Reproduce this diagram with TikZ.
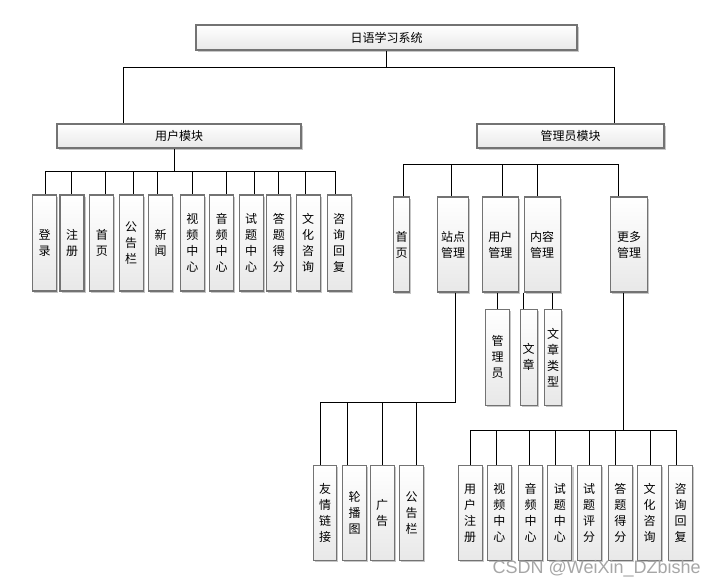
\documentclass[tikz,border=0pt]{standalone}
\usepackage{fontspec}
\newfontfamily\cjk{Noto Sans CJK SC}
\newfontfamily\wmfont{Liberation Sans}
\usetikzlibrary{shadows}
\tikzset{
  box/.style={draw=black!55, line width=1.1pt, top color=white, bottom color=black!9,
    inner sep=0pt, align=center, font=\cjk\fontsize{12}{16}\selectfont,
    drop shadow={shadow xshift=1.6pt, shadow yshift=-1.6pt, fill=black!22, opacity=1}},
  conn/.style={draw=black, line width=0.8pt},
}
\newcommand{\bx}[7]{\node[box, minimum width=#4pt, minimum height=#5pt] (#1) at (#2,#3) {#6};}
\begin{document}
\begin{tikzpicture}[x=1pt,y=-1pt]
\useasboundingbox (0,0) rectangle (718,588);
% top
\node[box, minimum width=381pt, minimum height=25pt] (top) at (386.5,37.5) {日语学习系统};
\node[box, minimum width=244pt, minimum height=24pt] (umod) at (179,136) {用户模块};
\node[box, minimum width=187pt, minimum height=24pt] (amod) at (570.5,136) {管理员模块};
% user children
\foreach \n/\cx/\t in {u1/44.7/登\\录, u2/72/注\\册, u3/101.8/首\\页, u4/131.2/公\\告\\栏,
  u5/160.5/新\\闻, u6/192.3/视\\频\\中\\心, u7/221.5/音\\频\\中\\心, u8/251.2/试\\题\\中\\心,
  u9/278.8/答\\题\\得\\分, u10/308.2/文\\化\\咨\\询, u11/339.2/咨\\询\\回\\复}
  \node[box, minimum width=24pt, minimum height=96pt] (\n) at (\cx,243) {\t};
% admin children
\node[box, minimum width=16.4pt, minimum height=95pt] (a1) at (401.5,244.5) {首\\页};
\node[box, minimum width=30.6pt, minimum height=95pt] (a2) at (453,244.5) {站点\\管理};
\node[box, minimum width=36pt, minimum height=95pt] (a3) at (500.3,244.5) {用户\\管理};
\node[box, minimum width=36.3pt, minimum height=95pt] (a4) at (542.2,244.5) {内容\\管理};
\node[box, minimum width=36.6pt, minimum height=95pt] (a5) at (629,244.5) {更多\\管理};
% sub of user/content
\node[box, minimum width=24pt, minimum height=95.7pt] (s1) at (497.7,357.2) {管\\理\\员};
\node[box, minimum width=17.3pt, minimum height=95.7pt] (s2) at (528.7,357.2) {文\\章};
\node[box, minimum width=17.4pt, minimum height=95.7pt] (s3) at (553,357.2) {文\\章\\类\\型};
% site children
\node[box, minimum width=23.4pt, minimum height=95pt] (t1) at (325,513.2) {友\\情\\链\\接};
\node[box, minimum width=24.4pt, minimum height=95pt] (t2) at (354.5,513.2) {轮\\播\\图};
\node[box, minimum width=24.3pt, minimum height=95pt] (t3) at (382.2,513.2) {广\\告};
\node[box, minimum width=24.4pt, minimum height=95pt] (t4) at (411.5,513.2) {公\\告\\栏};
% more children
\foreach \n/\cx/\t in {m1/470.2/用\\户\\注\\册, m2/499.3/视\\频\\中\\心, m3/530.5/音\\频\\中\\心,
  m4/559.8/试\\题\\中\\心, m5/589.2/试\\题\\评\\分, m6/620.3/答\\题\\得\\分,
  m7/649.7/文\\化\\咨\\询, m8/680.5/咨\\询\\回\\复}
  \node[box, minimum width=24.2pt, minimum height=95pt] (\n) at (\cx,513.2) {\t};
% connectors: top level
\coordinate (j0) at (386.5,67);
\draw[conn] (top.south) -- (j0);
\draw[conn] (j0) -| ([xshift=-56pt]umod.north);
\draw[conn] (j0) -| ([xshift=43.5pt]amod.north);
% user module bus
\coordinate (j1) at (174,171);
\draw[conn] ([xshift=-5pt]umod.south) -- (j1);
\foreach \n/\d in {u1/0.3, u2/-1, u3/4, u4/2, u5/-3, u6/0, u7/5, u8/3, u9/0, u10/-2.5, u11/-3.5}
  \draw[conn] (j1) -| ([xshift=\d pt]\n.north);
% admin bus (no parent link in reference)
\coordinate (j2) at (403.3,164);
\draw[conn] ([xshift=1.8pt]a1.north) -- (j2);
\foreach \n/\d in {a2/-2, a3/2.4, a4/-4.9, a5/-10.7}
  \draw[conn] (j2) -| ([xshift=\d pt]\n.north);
% user mgmt / content mgmt subs
\draw[conn] (s1.north) -- (s1.north |- a3.south);
\draw[conn] (a4.south west) -- (a4.south west |- s2.north);
\draw[conn] ([xshift=-0.7pt]s3.north) -- ([xshift=-0.7pt]s3.north |- a4.south);
% site management
\coordinate (j3) at (455.7,402.7);
\draw[conn] ([xshift=2.7pt]a2.south) -- (j3);
\foreach \n/\d in {t1/-4.3, t2/-6.8, t3/0, t4/5.2}
  \draw[conn] (j3) -| ([xshift=\d pt]\n.north);
% more management
\coordinate (j4) at (623.3,430.7);
\draw[conn] ([xshift=-5.7pt]a5.south) -- (j4);
\foreach \n/\d in {m1/0, m2/-3.3, m3/-1.5, m4/-4.8, m5/0, m6/-5, m7/0.3, m8/-4.5}
  \draw[conn] (j4) -| ([xshift=\d pt]\n.north);
% watermark
\node[text=black!35, font=\wmfont\fontsize{18}{20}\selectfont, inner sep=0pt] (wm) at (596.7,569) {CSDN @WeiXin\_DZbishe};
\end{tikzpicture}
\end{document}
